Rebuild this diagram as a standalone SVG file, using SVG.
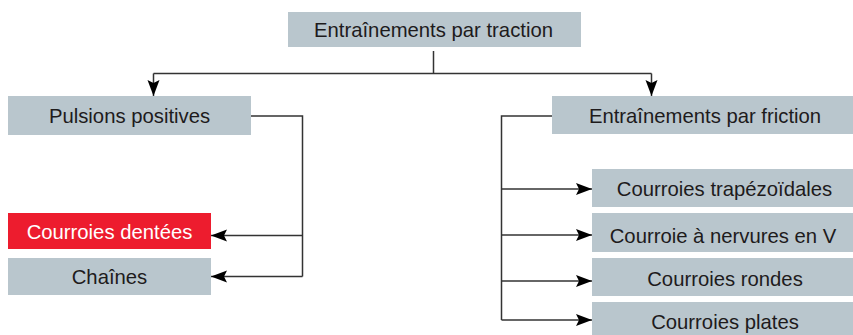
<svg xmlns="http://www.w3.org/2000/svg" width="853" height="335" viewBox="0 0 853 335">
<style>
.box{fill:#b9c6cd}
.red{fill:#ed1c2e}
.t{font-family:"Liberation Sans",Arial,sans-serif;font-size:20.3px;fill:#1e1b1c;text-anchor:middle}
.w{fill:#ffffff}
.c{fill:none;stroke:#333333;stroke-width:1.5}
</style>
<defs>
<marker id="ah" markerUnits="userSpaceOnUse" markerWidth="17" markerHeight="13" refX="16" refY="6.5" orient="auto">
<path d="M0,0.5 L16,6.5 L0,12.5 L3,6.5 z" fill="#000000"/>
</marker>
</defs>
<rect width="853" height="335" fill="#ffffff"/>
<g id="connectors">
<path class="c" d="M433.5,51 V73.5"/>
<path class="c" d="M153.5,73.5 H651.5"/>
<path class="c" d="M153.5,73.5 V96" marker-end="url(#ah)"/>
<path class="c" d="M651.5,73.5 V96" marker-end="url(#ah)"/>
<path class="c" d="M251,116 H302.5 V276.5"/>
<path class="c" d="M302.5,235.5 H211" marker-end="url(#ah)"/>
<path class="c" d="M302.5,276.5 H211" marker-end="url(#ah)"/>
<path class="c" d="M552,116 H501.5 V320"/>
<path class="c" d="M501.5,189 H592" marker-end="url(#ah)"/>
<path class="c" d="M501.5,235 H592" marker-end="url(#ah)"/>
<path class="c" d="M501.5,281 H592" marker-end="url(#ah)"/>
<path class="c" d="M501.5,320 H592" marker-end="url(#ah)"/>
</g>
<g id="n-traction">
<rect class="box" x="288" y="12" width="293" height="35"/>
<text class="t" x="433.5" y="37">Entraînements par traction</text>
</g>
<g id="n-pulsions">
<rect class="box" x="8" y="96" width="243" height="39"/>
<text class="t" x="129.5" y="123">Pulsions positives</text>
</g>
<g id="n-dentees">
<rect class="red" x="8" y="213" width="203" height="36"/>
<text class="t w" x="109.5" y="239">Courroies dentées</text>
</g>
<g id="n-chaines">
<rect class="box" x="8" y="258" width="203" height="37"/>
<text class="t" x="109.5" y="284">Chaînes</text>
</g>
<g id="n-friction">
<rect class="box" x="552" y="96" width="301" height="38"/>
<text class="t" x="705" y="123">Entraînements par friction</text>
</g>
<g id="n-trapezoidales">
<rect class="box" x="592" y="169" width="261" height="38"/>
<text class="t" x="724.5" y="196">Courroies trapézoïdales</text>
</g>
<g id="n-nervures">
<rect class="box" x="592" y="213" width="261" height="39"/>
<text class="t" x="723" y="243">Courroie à nervures en V</text>
</g>
<g id="n-rondes">
<rect class="box" x="592" y="258" width="261" height="38"/>
<text class="t" x="725" y="286">Courroies rondes</text>
</g>
<g id="n-plates">
<rect class="box" x="592" y="302" width="261" height="33"/>
<text class="t" x="725" y="329">Courroies plates</text>
</g>
</svg>
